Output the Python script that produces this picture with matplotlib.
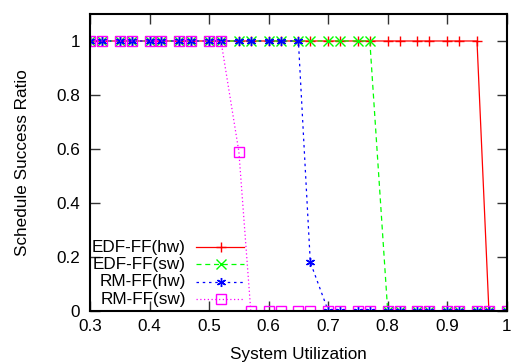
import matplotlib
matplotlib.use("Agg")
import matplotlib.pyplot as plt
from matplotlib.ticker import FuncFormatter

plt.rcParams['font.family'] = ['Liberation Sans', 'DejaVu Sans']

# utilizacion del sistema (pares 0.30/0.32, 0.35/0.37, ...)
util = [0.30, 0.32, 0.35, 0.37, 0.40, 0.42, 0.45, 0.47, 0.50, 0.52,
        0.55, 0.57, 0.60, 0.62, 0.65, 0.67, 0.70, 0.72, 0.75, 0.77,
        0.80, 0.82, 0.85, 0.87, 0.90, 0.92, 0.95, 0.97, 1.00]

edf_hw = [1]*27 + [0, 0]
edf_sw = [1]*20 + [0]*9
rm_hw = [1]*15 + [0.18] + [0]*13
rm_sw = [1]*10 + [0.59] + [0]*18

labels = ['EDF-FF(hw)', 'EDF-FF(sw)', 'RM-FF(hw)', 'RM-FF(sw)']
series = [edf_hw, edf_sw, rm_hw, rm_sw]
colors = ['#ff0000', '#00ff00', '#0000ff', '#ff00ff']
styles = ['-', (0, (4, 3)), (0, (2, 3)), (0, (1, 2))]
markers = ['+', 'x', (6, 2, 0), 's']

FS = 12.3
MS = 6.5

fig = plt.figure(figsize=(5.15, 3.63), dpi=100)
ax = fig.add_axes([0.1748, 0.144, 0.8092, 0.8174])

for y, c, ls, m in zip(series, colors, styles, markers):
    ax.plot(util, y, color=c, linestyle=ls, linewidth=0.9, marker=m,
            markersize=MS, markerfacecolor='none', markeredgecolor=c,
            markeredgewidth=1.0)

# leyenda al estilo gnuplot: texto alineado a la derecha, muestra a la derecha
leg_y = [0.2137, 0.156, 0.0975, 0.0394]
for lab, c, ls, m, yy in zip(labels, colors, styles, markers, leg_y):
    ax.text(0.230, yy, lab, transform=ax.transAxes, ha='right', va='center',
            fontsize=FS)
    ax.plot([0.254, 0.370], [yy, yy], transform=ax.transAxes, color=c,
            linestyle=ls, linewidth=0.9, clip_on=False)
    ax.plot([0.3136], [yy], transform=ax.transAxes, color=c, marker=m,
            markersize=MS, markerfacecolor='none', markeredgewidth=1.0,
            clip_on=False)

ax.set_xlim(0.3, 1.0)
ax.set_ylim(0, 1.1)
ax.set_xticks([0.3, 0.4, 0.5, 0.6, 0.7, 0.8, 0.9, 1.0])
ax.set_yticks([0, 0.2, 0.4, 0.6, 0.8, 1.0])
ax.xaxis.set_major_formatter(FuncFormatter(lambda v, p: '%g' % round(v, 2)))
ax.yaxis.set_major_formatter(FuncFormatter(lambda v, p: '%g' % round(v, 2)))
ax.tick_params(direction='in', length=7.5, width=1.0, top=True, right=True,
               labelsize=FS, color='#333333')
ax.tick_params(axis='y', pad=7)
ax.tick_params(axis='x', pad=6)
for s in ax.spines.values():
    s.set_linewidth(1.5)

ax.set_xlabel('System Utilization', fontsize=FS, labelpad=9)
ax.set_ylabel('Schedule Success Ratio', fontsize=FS, labelpad=19)

fig.savefig('out.png', dpi=100)
